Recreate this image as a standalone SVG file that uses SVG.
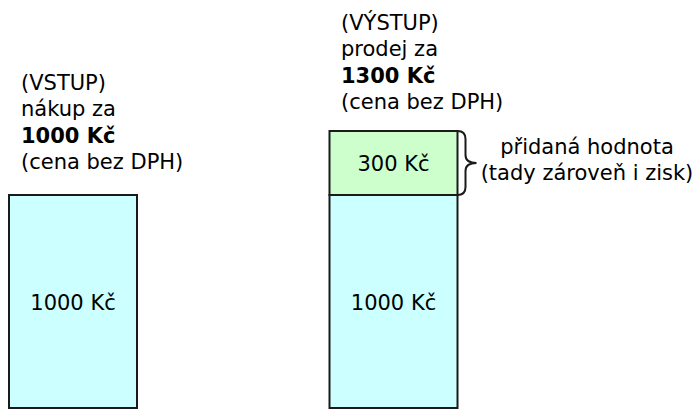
<svg xmlns="http://www.w3.org/2000/svg" width="697" height="411" viewBox="0 0 697 411">
<style>
text{font-family:"DejaVu Sans",sans-serif;font-size:21px;fill:#000}
.b{font-weight:bold}
.m{text-anchor:middle}
.box{stroke:#1a1a1a;stroke-width:2}
.cyan{fill:#ccffff}
.green{fill:#ccffcc}
</style>
<rect width="697" height="411" fill="#fff"/>
<g id="vstup-label">
<text x="21" y="89.5">(VSTUP)</text>
<text x="21" y="116">nákup za</text>
<text x="21" y="142.5" class="b">1000 Kč</text>
<text x="21" y="169">(cena bez DPH)</text>
</g>
<g id="vystup-label">
<text x="341" y="29.5">(VÝSTUP)</text>
<text x="341" y="56">prodej za</text>
<text x="341" y="82.5" class="b">1300 Kč</text>
<text x="341" y="109">(cena bez DPH)</text>
</g>
<g id="vstup-box">
<rect x="9" y="195" width="128" height="213" class="box cyan"/>
<text x="73" y="309.5" class="m">1000 Kč</text>
</g>
<g id="vystup-base">
<rect x="329.5" y="195" width="128" height="213" class="box cyan"/>
<text x="393.5" y="309.5" class="m">1000 Kč</text>
</g>
<g id="vystup-added">
<rect x="329.5" y="131" width="128" height="64" class="box green"/>
<text x="393.5" y="170.5" class="m">300 Kč</text>
</g>
<g id="connectors">
<path d="M457.5,131 q8,0 8,8 v16 q0,8 11,8 q-11,0 -11,8 v16 q0,8 -8,8" fill="none" stroke="#1a1a1a" stroke-width="2"/>
</g>
<g id="brace-label">
<text x="587" y="153.5" class="m">přidaná hodnota</text>
<text x="587" y="180" class="m">(tady zároveň i zisk)</text>
</g>
</svg>
